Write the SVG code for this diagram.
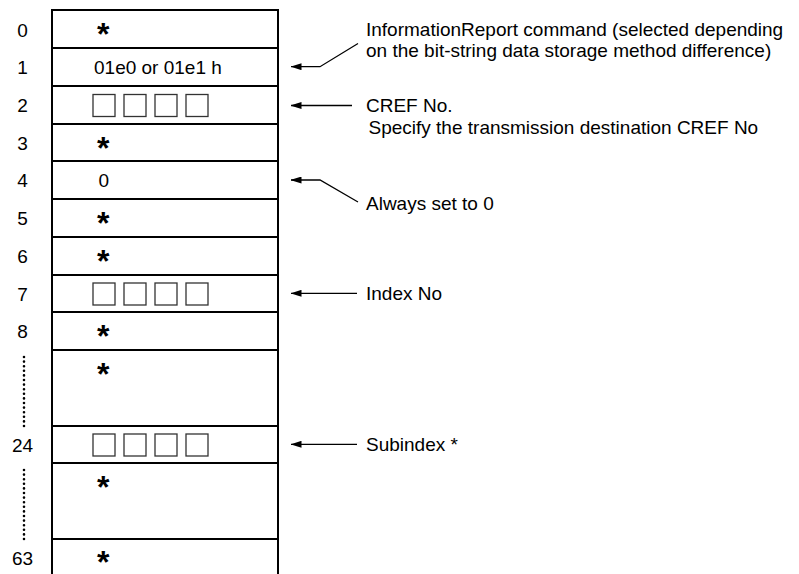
<svg xmlns="http://www.w3.org/2000/svg" width="799" height="574" viewBox="0 0 799 574">
<style>
  text { font-family: "Liberation Sans", Arial, sans-serif; font-size: 19px; fill: #000; }
  .lbl { text-anchor: middle; }
  .star { font-size: 32px; font-weight: bold; text-anchor: middle; }
  .grid { stroke: #000; stroke-width: 2; fill: none; }
  .sq { fill: #fff; stroke: #333; stroke-width: 1.3; }
  .conn { stroke: #000; stroke-width: 1.3; fill: none; }
  .dots { stroke: #000; stroke-width: 2.6; stroke-linecap: round; stroke-dasharray: 0 4.6; fill: none; }
</style>
<defs>
  <marker id="ah" viewBox="0 0 11 7" refX="10.5" refY="3.5" markerWidth="11" markerHeight="7" markerUnits="userSpaceOnUse" orient="auto-start-reverse">
    <path d="M0,0 L11,3.5 L0,7 Z" fill="#000"/>
  </marker>
</defs>
<rect width="799" height="574" fill="#fff"/>

<g id="table">
  <path class="grid" d="M52,574 V10 H278 V574"/>
  <path class="grid" d="M52,48 H278 M52,86 H278 M52,124 H278 M52,161 H278 M52,199 H278 M52,237 H278 M52,275 H278 M52,312 H278 M52,350 H278 M52,426 H278 M52,463 H278 M52,539 H278"/>
</g>

<g id="row-labels">
  <text class="lbl" x="22.5" y="36.5">0</text>
  <text class="lbl" x="22.5" y="74">1</text>
  <text class="lbl" x="22.5" y="112">2</text>
  <text class="lbl" x="22.5" y="150">3</text>
  <text class="lbl" x="22.5" y="187">4</text>
  <text class="lbl" x="22.5" y="225">5</text>
  <text class="lbl" x="22.5" y="263">6</text>
  <text class="lbl" x="22.5" y="301">7</text>
  <text class="lbl" x="22.5" y="338">8</text>
  <text class="lbl" x="22.5" y="452">24</text>
  <text class="lbl" x="22.5" y="565">63</text>
  <path class="dots" d="M24,357 V427 M24,470 V540"/>
</g>

<g id="row0"><text class="star" x="103.3" y="45">*</text></g>
<g id="row1"><text x="94" y="74">01e0 or 01e1 h</text></g>
<g id="row2">
  <rect class="sq" x="93" y="94.5" width="22" height="22"/>
  <rect class="sq" x="124" y="94.5" width="22" height="22"/>
  <rect class="sq" x="155" y="94.5" width="22" height="22"/>
  <rect class="sq" x="186" y="94.5" width="22" height="22"/>
</g>
<g id="row3"><text class="star" x="103.3" y="159">*</text></g>
<g id="row4"><text class="lbl" x="103.7" y="187">0</text></g>
<g id="row5"><text class="star" x="103.3" y="234">*</text></g>
<g id="row6"><text class="star" x="103.3" y="272">*</text></g>
<g id="row7">
  <rect class="sq" x="93" y="283" width="22" height="22"/>
  <rect class="sq" x="124" y="283" width="22" height="22"/>
  <rect class="sq" x="155" y="283" width="22" height="22"/>
  <rect class="sq" x="186" y="283" width="22" height="22"/>
</g>
<g id="row8"><text class="star" x="103.3" y="347">*</text></g>
<g id="row9"><text class="star" x="103.3" y="385">*</text></g>
<g id="row24">
  <rect class="sq" x="93" y="434" width="22" height="22"/>
  <rect class="sq" x="124" y="434" width="22" height="22"/>
  <rect class="sq" x="155" y="434" width="22" height="22"/>
  <rect class="sq" x="186" y="434" width="22" height="22"/>
</g>
<g id="row25"><text class="star" x="103.3" y="498">*</text></g>
<g id="row63"><text class="star" x="103.3" y="573">*</text></g>

<g id="connectors">
  <path class="conn" marker-start="url(#ah)" d="M291,66.7 H320 L358,43.5"/>
  <path class="conn" marker-start="url(#ah)" d="M291,105.5 H352"/>
  <path class="conn" marker-start="url(#ah)" d="M291,180 H320 L358,202"/>
  <path class="conn" marker-start="url(#ah)" d="M291,293.3 H357"/>
  <path class="conn" marker-start="url(#ah)" d="M291,444.3 H357"/>
</g>

<g id="note-cmd">
  <text x="366" y="35.5">InformationReport command (selected depending</text>
  <text x="366" y="57">on the bit-string data storage method difference)</text>
</g>
<g id="note-cref">
  <text x="366" y="112">CREF No.</text>
  <text x="368.5" y="133.5">Specify the transmission destination CREF No</text>
</g>
<g id="note-zero"><text x="366" y="209.5">Always set to 0</text></g>
<g id="note-index"><text x="366" y="300">Index No</text></g>
<g id="note-subindex"><text x="366" y="451">Subindex *</text></g>
</svg>
